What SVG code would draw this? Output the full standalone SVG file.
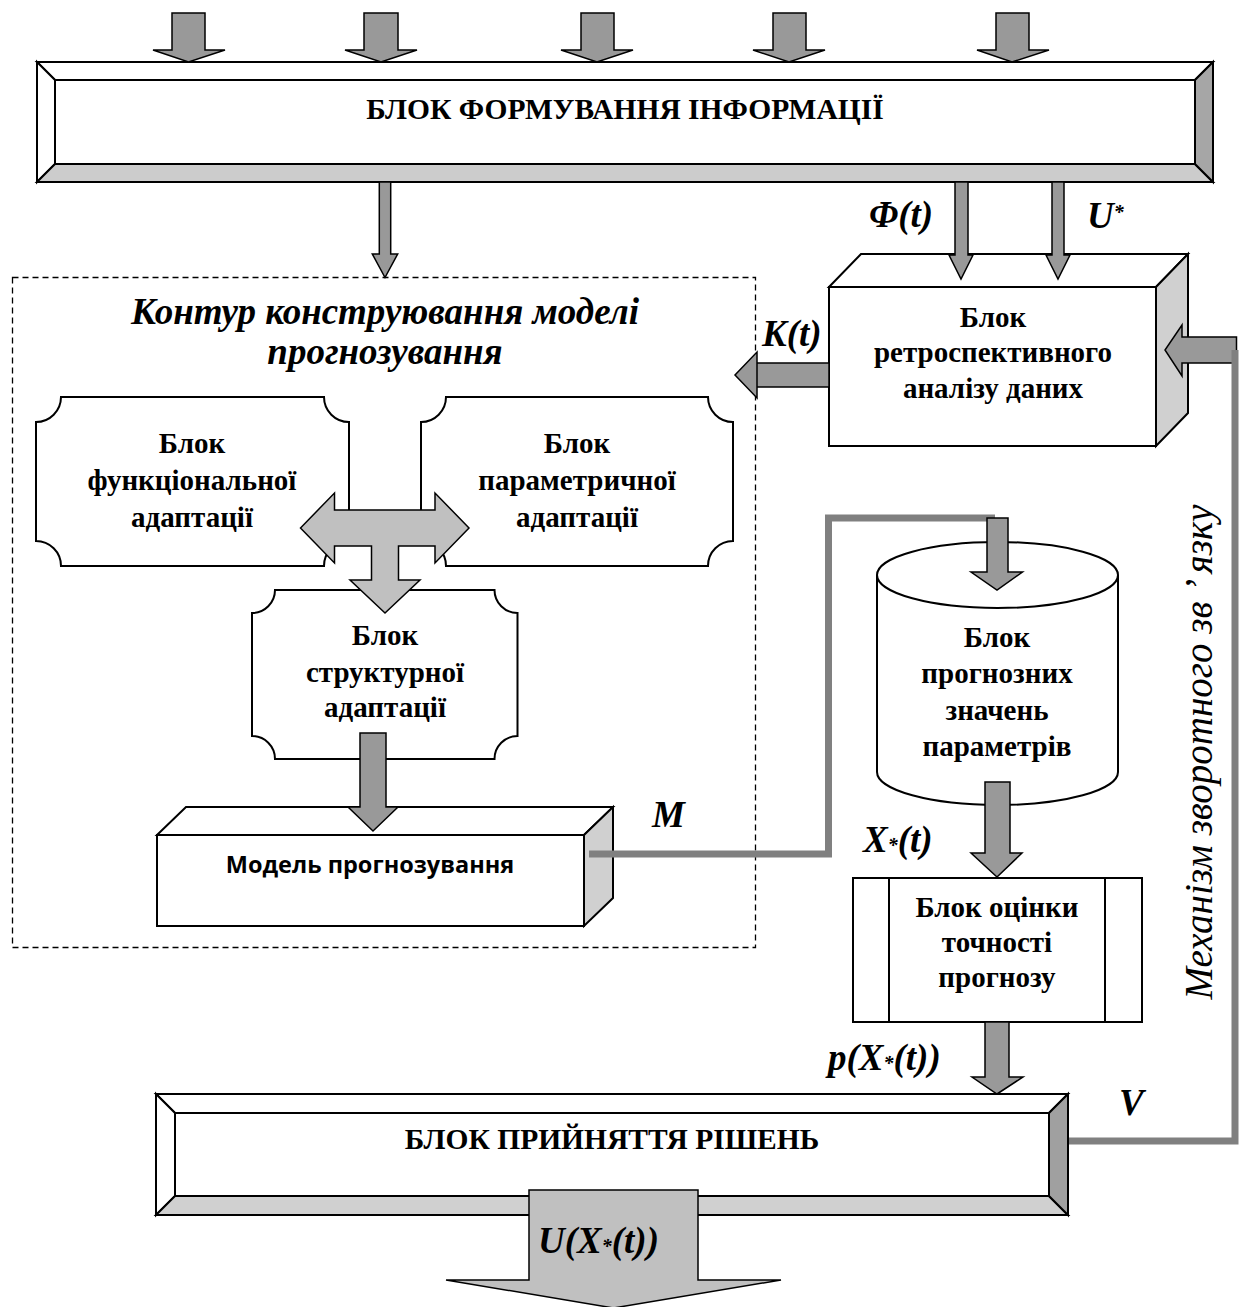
<svg xmlns="http://www.w3.org/2000/svg" width="1239" height="1307" viewBox="0 0 1239 1307">
  <style>
    .edge { stroke: #000; stroke-width: 2; stroke-linejoin: miter; }
    .arrow { fill: #999999; stroke: #000; stroke-width: 1.5; stroke-linejoin: miter; }
    .arrow-light { fill: #c0c0c0; stroke: #000; stroke-width: 1.5; stroke-linejoin: miter; }
    .wire { fill: none; stroke: #808080; stroke-width: 7; stroke-linejoin: miter; }
    .txt { font-family: "Liberation Serif", "Times New Roman", serif; font-weight: bold; font-size: 29px; text-anchor: middle; fill: #000; }
    .caps { font-family: "Liberation Serif", "Times New Roman", serif; font-weight: bold; font-size: 29.5px; text-anchor: middle; fill: #000; }
    .lbl { font-family: "Liberation Serif", "Times New Roman", serif; font-weight: bold; font-style: italic; font-size: 37px; fill: #000; }
    .star { font-size: 20px; }
  </style>

  <rect width="1239" height="1307" fill="#fff"/>

  <!-- Information forming block (bevelled panel) -->
  <g id="info-block">
    <polygon points="37,62 1213,62 1195,80 55,80" fill="#fff" class="edge"/>
    <polygon points="37,62 55,80 55,164 37,182" fill="#fff" class="edge"/>
    <polygon points="37,182 55,164 1195,164 1213,182" fill="#cccccc" class="edge"/>
    <polygon points="1213,62 1213,182 1195,164 1195,80" fill="#a6a6a6" class="edge"/>
    <rect x="55" y="80" width="1140" height="84" fill="#fff" class="edge"/>
    <text class="caps" x="625" y="119">БЛОК ФОРМУВАННЯ ІНФОРМАЦІЇ</text>
  </g>

  <!-- Construction loop of the forecasting model -->
  <g id="model-loop">
    <rect x="12.5" y="277.5" width="743" height="670" fill="none" stroke="#000" stroke-width="1.3" stroke-dasharray="6 4"/>
    <text class="lbl" x="385" y="324" text-anchor="middle" font-size="39">Контур конструювання моделі</text>
    <text class="lbl" x="385" y="364" text-anchor="middle" font-size="39">прогнозування</text>
  </g>

  <g id="functional-block">
    <path d="M61,397 L324,397 A25,25 0 0 0 349,422 L349,541 A25,25 0 0 0 324,566 L61,566 A25,25 0 0 0 36,541 L36,422 A25,25 0 0 0 61,397 Z" fill="#fff" class="edge"/>
    <text class="txt" x="192" y="453">Блок</text>
    <text class="txt" x="192" y="490">функціональної</text>
    <text class="txt" x="192" y="527">адаптації</text>
  </g>

  <g id="parametric-block">
    <path d="M446,397 L708,397 A25,25 0 0 0 733,422 L733,541 A25,25 0 0 0 708,566 L446,566 A25,25 0 0 0 421,541 L421,422 A25,25 0 0 0 446,397 Z" fill="#fff" class="edge"/>
    <text class="txt" x="577" y="453">Блок</text>
    <text class="txt" x="577" y="490">параметричної</text>
    <text class="txt" x="577" y="527">адаптації</text>
  </g>

  <g id="structural-block">
    <path d="M275,590 L494.5,590 A23,23 0 0 0 517.5,613 L517.5,736 A23,23 0 0 0 494.5,759 L275,759 A23,23 0 0 0 252,736 L252,613 A23,23 0 0 0 275,590 Z" fill="#fff" class="edge"/>
    <text class="txt" x="385" y="645">Блок</text>
    <text class="txt" x="385" y="682">структурної</text>
    <text class="txt" x="385" y="717">адаптації</text>
  </g>

  <g id="forecast-model">
    <polygon points="157,835 186,807 613,807 584,835" fill="#fff" class="edge"/>
    <polygon points="584,835 613,807 613,898 584,926" fill="#d0d0d0" class="edge"/>
    <rect x="157" y="835" width="427" height="91" fill="#fff" class="edge"/>
    <text x="370" y="873" text-anchor="middle" font-family="'Open Sans', 'Liberation Sans', sans-serif" font-weight="bold" font-size="23.5">Модель прогнозування</text>
  </g>

  <g id="retrospective-block">
    <polygon points="829,287 861,254 1188,254 1156,287" fill="#fff" class="edge"/>
    <polygon points="1156,287 1188,254 1188,413 1156,446" fill="#d0d0d0" class="edge"/>
    <rect x="829" y="287" width="327" height="159" fill="#fff" class="edge"/>
    <text class="txt" x="993" y="327">Блок</text>
    <text class="txt" x="993" y="362">ретроспективного</text>
    <text class="txt" x="993" y="398">аналізу даних</text>
  </g>

  <g id="forecast-store">
    <path d="M877,575 L877,772 A120.5,33 0 0 0 1118,772 L1118,575" fill="#fff" class="edge"/>
    <ellipse cx="997.5" cy="575" rx="120.5" ry="33" fill="#fff" class="edge"/>
    <text class="txt" x="997" y="647">Блок</text>
    <text class="txt" x="997" y="683">прогнозних</text>
    <text class="txt" x="997" y="720">значень</text>
    <text class="txt" x="997" y="756">параметрів</text>
  </g>

  <g id="accuracy-block">
    <rect x="853" y="878" width="289" height="144" fill="#fff" class="edge"/>
    <line x1="889" y1="878" x2="889" y2="1022" class="edge"/>
    <line x1="1105" y1="878" x2="1105" y2="1022" class="edge"/>
    <text class="txt" x="997" y="917">Блок оцінки</text>
    <text class="txt" x="997" y="952">точності</text>
    <text class="txt" x="997" y="987">прогнозу</text>
  </g>

  <g id="decision-block">
    <polygon points="156,1094 1068,1094 1049,1113 175,1113" fill="#fff" class="edge"/>
    <polygon points="156,1094 175,1113 175,1196 156,1215" fill="#fff" class="edge"/>
    <polygon points="156,1215 175,1196 1049,1196 1068,1215" fill="#d0d0d0" class="edge"/>
    <polygon points="1068,1094 1068,1215 1049,1196 1049,1113" fill="#a0a0a0" class="edge"/>
    <rect x="175" y="1113" width="874" height="83" fill="#fff" class="edge"/>
    <text class="caps" x="612" y="1149">БЛОК ПРИЙНЯТТЯ РІШЕНЬ</text>
  </g>

  <!-- Connectors -->
  <g id="connectors">
    <!-- incoming data arrows -->
    <polygon class="arrow" points="172,13 205,13 205,50 225,50 188.5,62 153,50 172,50"/>
    <polygon class="arrow" points="364,13 398,13 398,50 417,50 381,62 345,50 364,50"/>
    <polygon class="arrow" points="581,13 614,13 614,50 633,50 597,62 561,50 581,50"/>
    <polygon class="arrow" points="773,13 806,13 806,50 825,50 789,62 753,50 773,50"/>
    <polygon class="arrow" points="996,13 1029,13 1029,50 1049,50 1012,62 977,50 996,50"/>

    <!-- info block to model loop -->
    <polygon class="arrow" points="379.3,182 390.7,182 390.7,254 397.7,254 385,277.5 372.3,254 379.3,254"/>

    <!-- Φ(t) and U* into retrospective block -->
    <polygon class="arrow" points="955,182 968,182 968,255 973,255 961,279 949,255 955,255"/>
    <polygon class="arrow" points="1052,182 1064,182 1064,255 1070,255 1058,279 1046,255 1052,255"/>

    <!-- K(t) to model loop -->
    <polygon class="arrow" points="829,363 757,363 757,398 735,375 757,352 757,387 829,387"/>

    <!-- adaptation T-arrow -->
    <polygon class="arrow-light" points="300.5,528 334.5,493 334.5,510 435,510 435,493 469,528 435,563 435,546 398.5,546 398.5,580 420,580 385,613 350,580 371.5,580 371.5,546 334.5,546 334.5,563"/>

    <!-- structural block to model -->
    <polygon class="arrow" points="360,733 386,733 386,807 398,807 373,831 348,807 360,807"/>

    <!-- model output M to forecast store -->
    <polyline class="wire" stroke-width="8" points="589,854 828.5,854 828.5,518 995,518"/>
    <polygon class="arrow" points="987,518 1008,518 1008,572 1022.5,572 997,590 971,572 987,572"/>

    <!-- store to accuracy block -->
    <polygon class="arrow" points="985,782 1010,782 1010,853 1022,853 997,877 971,853 985,853"/>

    <!-- accuracy to decision block -->
    <polygon class="arrow" points="985,1022 1009,1022 1009,1077 1023,1077 997,1094 972,1077 985,1077"/>

    <!-- feedback V to retrospective block -->
    <polygon class="arrow" points="1236.5,337 1182,337 1182,325 1165,350 1182,376 1182,363 1236.5,363"/>
    <polyline class="wire" points="1069,1141 1235,1141 1235,350"/>

    <!-- decision output -->
    <polygon class="arrow-light" points="529,1190 698,1190 698,1280 781,1280 613.5,1308 446,1280 529,1280"/>
  </g>

  <!-- Flow labels -->
  <g id="labels">
    <text class="lbl" x="869" y="227">Φ(t)</text>
    <text class="lbl" x="1087" y="228">U<tspan class="star" font-size="22" dy="-9">*</tspan></text>
    <text class="lbl" x="762" y="346" font-size="36">K(t)</text>
    <text class="lbl" x="652" y="827">M</text>
    <text class="lbl" x="863" y="852">X<tspan class="star">*</tspan>(t)</text>
    <text class="lbl" x="828" y="1070">p(X<tspan class="star">*</tspan>(t))</text>
    <text class="lbl" x="1119" y="1115">V</text>
    <text class="lbl" x="538" y="1253">U(X<tspan class="star">*</tspan>(t))</text>
    <text transform="translate(1212,752) rotate(-90)" text-anchor="middle" font-family="'Liberation Serif', 'Times New Roman', serif" font-style="italic" font-size="39">Механізм зворотного зв ’ язку</text>
  </g>
</svg>
